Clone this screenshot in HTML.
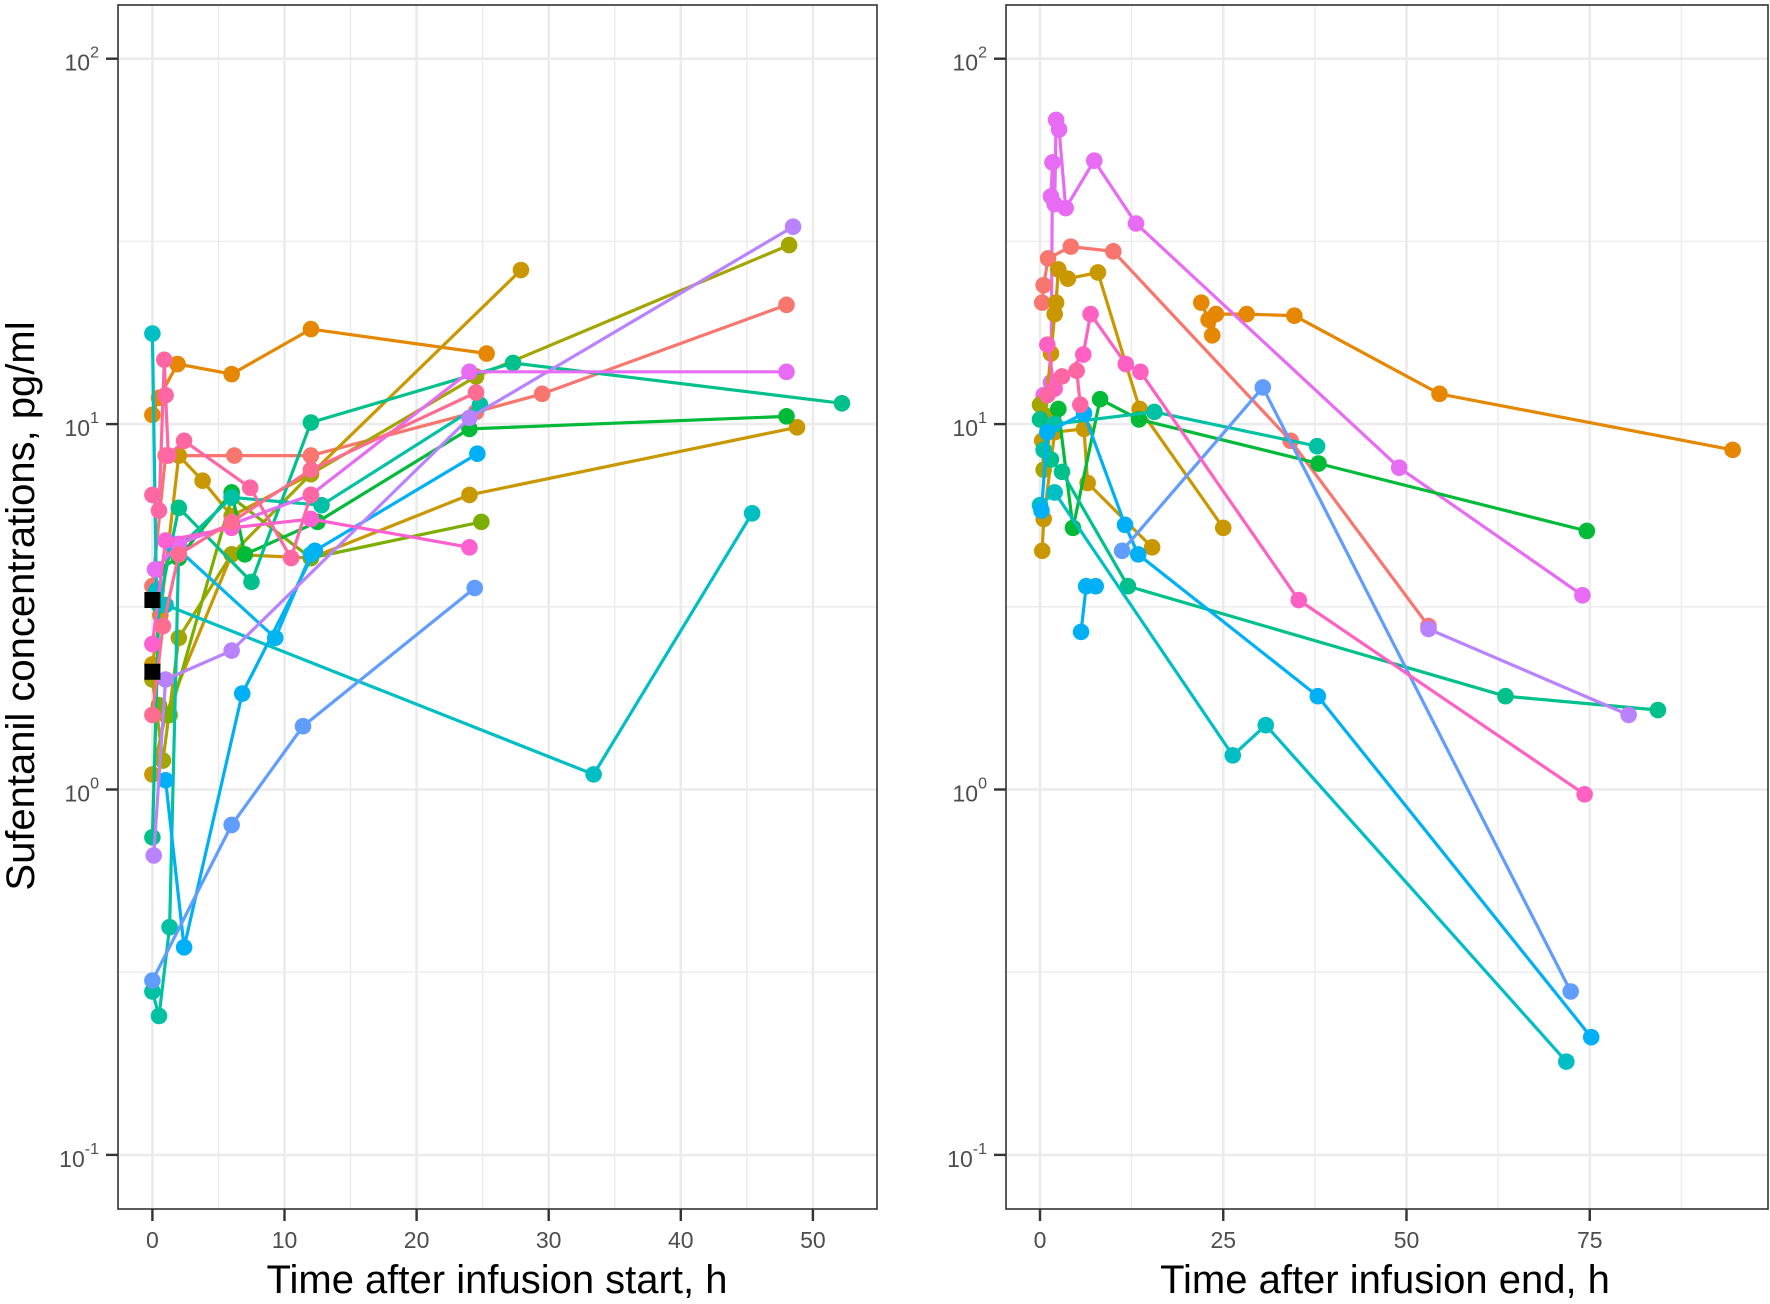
<!DOCTYPE html>
<html><head><meta charset="utf-8">
<style>
html,body{margin:0;padding:0;background:#fff;}
svg{display:block;font-family:"Liberation Sans",sans-serif;}
</style></head>
<body>
<svg id="chart" width="1770" height="1304" viewBox="0 0 1770 1304" xmlns="http://www.w3.org/2000/svg">
<rect width="1770" height="1304" fill="#fff"/>
<text transform="translate(34,606) rotate(-90)" text-anchor="middle" font-size="40" fill="#000">Sufentanil concentrations, pg/ml</text>
<text x="497" y="1293" text-anchor="middle" font-size="40" fill="#000">Time after infusion start, h</text>
<text x="1385" y="1293" text-anchor="middle" font-size="40" fill="#000">Time after infusion end, h</text>
<g id="left"></g>
<g id="right"></g>
</svg>
<script>
// ---- data ----
const yTicks = [2, 1, 0, -1];
const leftXTicks = [0, 10, 20, 30, 40, 50];
const rightXTicks = [0, 25, 50, 75];

const L_salmon = [[0,3.6],[1,8.2],[6.2,8.2],[12,8.2],[24.5,10.8],[29.5,12.1],[48,21.2]];
const L_orange = [[0,10.6],[0.5,11.8],[1.9,14.6],[6,13.7],[12,18.2],[25.3,15.6]];
const L_gold = [[0,2.2],[0.6,3],[2,8.2],[3.8,7],[6,5.6],[12,7.3],[27.9,26.4]];
const L_gold2 = [[0,1.1],[1,1.6],[6,4.4],[12,4.3],[24,6.4],[48.8,9.8]];
const L_olive = [[0,2],[0.8,1.2],[2,2.6],[6,4.4],[12,7.3],[24.5,13.5],[48.2,30.9]];
const L_olive2 = [[0.5,1.7],[1.3,1.6],[6,6.3],[12,4.3],[24.9,5.4]];
const L_green = [[0.4,4],[2,4.3],[6,6.5],[7,4.4],[12.5,5.4],[24,9.7],[48,10.5]];
const L_green2 = [[0,0.74],[0.5,3.2],[2,5.9],[7.5,3.7],[12,10.1],[27.3,14.7],[52.2,11.4]];
const L_teal = [[0,17.7],[0.3,3.5],[1,3.2],[33.4,1.1],[45.4,5.7]];
const L_teal2 = [[0,0.28],[0.5,0.24],[1.3,0.42],[2,4.6],[6,6.3],[12.8,6],[24.8,11.3]];
const L_sky = [[1,1.06],[2.4,0.37],[6.8,1.83],[12.3,4.5],[24.6,8.3]];
const L_blue = [[0,0.3],[6,0.8],[11.4,1.49],[24.4,3.56]];
const L_cyan = [[1.5,4.7],[9.3,2.6],[12,4.4]];
const L_purple = [[0.1,0.66],[1,2],[6,2.4],[24,10.4],[48.5,34.7]];
const L_magenta = [[0.2,4],[2,4.7],[12,6.4],[24,13.9],[48,13.9]];
const L_pink = [[0,2.5],[1,4.8],[6,5.2],[12,5.5],[24,4.6]];
const L_pinkred = [[0,6.4],[0.5,5.8],[0.9,15],[1,12],[1.2,8.2],[2.4,9],[7.4,6.7],[10.5,4.3],[12,6.4]];
const L_pink2 = [[0,1.6],[0.8,2.8],[2,4.4],[6,5.4],[12,7.5],[24.5,12.2]];
const L_black = [[0,3.3],[0,2.1]];

const R_orange = [[22,21.5],[23,19.3],[23.5,17.5],[24,20],[28.2,20],[34.7,19.8],[54.5,12.1],[94.5,8.5]];
const R_magenta = [[0.5,12],[1.5,13],[1.7,52],[1.5,42],[2,40],[2.2,68],[2.6,64],[3.5,39],[7.4,52.6],[13.1,35.4],[49,7.6],[74,3.4]];
const R_salmon = [[0.3,21.5],[0.5,24],[1.1,28.4],[4.2,30.6],[10,29.7],[34.2,9],[53,2.8]];
const R_gold = [[0.3,9],[1.5,15.6],[2,20],[2.2,21.5],[2.5,26.5],[3.8,25],[7.9,26],[13.6,11],[25,5.2]];
const R_gold2 = [[0.3,4.5],[0.5,5.5],[2,9.5],[6,9.7],[6.5,6.9],[15.3,4.6]];
const R_olive = [[0,11.3],[0.5,7.5],[1,10.5]];
const R_green = [[2.5,11],[4.5,5.2],[8.2,11.7],[13.5,10.3],[38,7.8],[74.6,5.1]];
const R_green2 = [[0,10.3],[1.5,8],[3,7.4],[12,3.6],[63.5,1.8],[84.3,1.65]];
const R_teal2 = [[0.5,8.5],[2,10],[15.6,10.8],[37.8,8.7]];
const R_teal = [[0,6],[2,6.5],[26.3,1.24],[30.8,1.5],[71.8,0.18]];
const R_sky = [[0.2,5.8],[1,9.5],[6,10.7],[11.6,5.3],[13.4,4.4],[37.9,1.8],[75.2,0.21]];
const R_sky2 = [[5.6,2.7],[6.3,3.6],[7.6,3.6]];
const R_blue = [[11.2,4.5],[30.4,12.6],[72.4,0.28]];
const R_purple = [[53,2.75],[80.3,1.6]];
const R_pink = [[1,16.5],[2,12.5],[5.9,15.5],[6.9,20],[11.7,14.6],[13.7,13.9],[35.3,3.3],[74.3,0.97]];
const R_pinkred = [[1,12],[3,13.5],[5,14],[5.5,11.3]];

const leftSeries = [
 ['salmon','#F8766D',L_salmon],['orange','#E58700',L_orange],['gold','#C99800',L_gold],['gold2','#C99800',L_gold2],
 ['olive','#A3A500',L_olive],['olive2','#7CAE00',L_olive2],['green','#00BA38',L_green],['green2','#00C08B',L_green2],
 ['teal','#00BFC4',L_teal],['teal2','#00C1A3',L_teal2],['sky','#00B0F6',L_sky],['blue','#619CFF',L_blue],
 ['cyan','#00B4EF',L_cyan],['purple','#B983FF',L_purple],['magenta','#E76BF3',L_magenta],['pink','#FD61D1',L_pink],
 ['pinkred','#FF67A4',L_pinkred],['pink2','#FF6C91',L_pink2]
];
const rightSeries = [
 ['orange','#E58700',R_orange],['magenta','#E76BF3',R_magenta],['salmon','#F8766D',R_salmon],['gold','#C99800',R_gold],
 ['gold2','#C99800',R_gold2],['olive','#A3A500',R_olive],['green','#00BA38',R_green],['green2','#00C08B',R_green2],
 ['teal2','#00C1A3',R_teal2],['teal','#00BFC4',R_teal],['sky','#00B0F6',R_sky],['sky2','#00B0F6',R_sky2],
 ['blue','#619CFF',R_blue],['purple','#B983FF',R_purple],['pink','#FF61C3',R_pink],['pinkred','#FF67A4',R_pinkred]
];

// ---- scales ----
const NS = 'http://www.w3.org/2000/svg';
const PT = 5, PB = 1209;
function yScale(c){ return 58.7 + (2 - Math.log10(c)) * 365.4; }
function mk(tag, attrs, parent){
  const e = document.createElementNS(NS, tag);
  for (const k in attrs) e.setAttribute(k, attrs[k]);
  parent.appendChild(e); return e;
}
function panel(gid, x0, x1, xs, xTicks, minorX, series, name){
  const g = document.getElementById(gid);
  const bg = mk('rect',{x:x0,y:PT,width:x1-x0,height:PB-PT,fill:'#fff'},g);
  
  
  minorX.forEach(t=>{ mk('line',{x1:xs(t),x2:xs(t),y1:PT,y2:PB,stroke:'#EBEBEB','stroke-width':1.3},g); });
  [1.5,0.5,-0.5].forEach(l=>{ const y=yScale(Math.pow(10,l)); mk('line',{x1:x0,x2:x1,y1:y,y2:y,stroke:'#EBEBEB','stroke-width':1.3},g); });
  xTicks.forEach(t=>{ mk('line',{x1:xs(t),x2:xs(t),y1:PT,y2:PB,stroke:'#EBEBEB','stroke-width':2.6},g); });
  yTicks.forEach(l=>{ const y=yScale(Math.pow(10,l)); mk('line',{x1:x0,x2:x1,y1:y,y2:y,stroke:'#EBEBEB','stroke-width':2.6},g); });
  series.forEach(s=>{
    const [nm,col,pts] = s;
    const sg = mk('g',{},g);
    
    
    const d = pts.map((p,i)=>(i?'L':'M')+xs(p[0]).toFixed(1)+','+yScale(p[1]).toFixed(1)).join(' ');
    mk('path',{d:d,fill:'none',stroke:col,'stroke-width':3.2,'stroke-linejoin':'round'},sg);
    pts.forEach(p=>{
      const c = mk('circle',{cx:xs(p[0]),cy:yScale(p[1]),r:8.3,fill:col},sg);
      
      
    });
  });
  if (name==='left'){
    L_black.forEach(p=>{
      const r = mk('rect',{x:xs(p[0])-8,y:yScale(p[1])-8,width:16,height:16,fill:'#000'},g);
      
      
    });
  }
  const border = mk('rect',{x:x0,y:PT,width:x1-x0,height:PB-PT,fill:'none',stroke:'#333','stroke-width':1.6},g);
  
  
  xTicks.forEach(t=>{
    mk('line',{x1:xs(t),x2:xs(t),y1:PB,y2:PB+12,stroke:'#333','stroke-width':2.4},g);
    const tx = mk('text',{x:xs(t),y:1248,'text-anchor':'middle','font-size':23,fill:'#4D4D4D'},g);
    tx.textContent = t;
    
    
  });
  yTicks.forEach(l=>{
    const y = yScale(Math.pow(10,l));
    mk('line',{x1:x0-12,x2:x0,y1:y,y2:y,stroke:'#333','stroke-width':2.4},g);
    const tx = mk('text',{x:x0-19,y:y+12,'text-anchor':'end','font-size':23,fill:'#4D4D4D'},g);
    
    
    const a = document.createElementNS(NS,'tspan'); a.textContent='10'; tx.appendChild(a);
    const b = document.createElementNS(NS,'tspan'); b.setAttribute('dy','-13'); b.setAttribute('font-size','16'); b.textContent=String(l); tx.appendChild(b);
  });
}
panel('left',118,877,t=>152.4+t*13.21,leftXTicks,[5,15,25,35,45],leftSeries,'left');
panel('right',1006,1768,t=>1040+t*7.33,rightXTicks,[12.5,37.5,62.5,87.5],rightSeries,'right');
</script>
</body></html>
